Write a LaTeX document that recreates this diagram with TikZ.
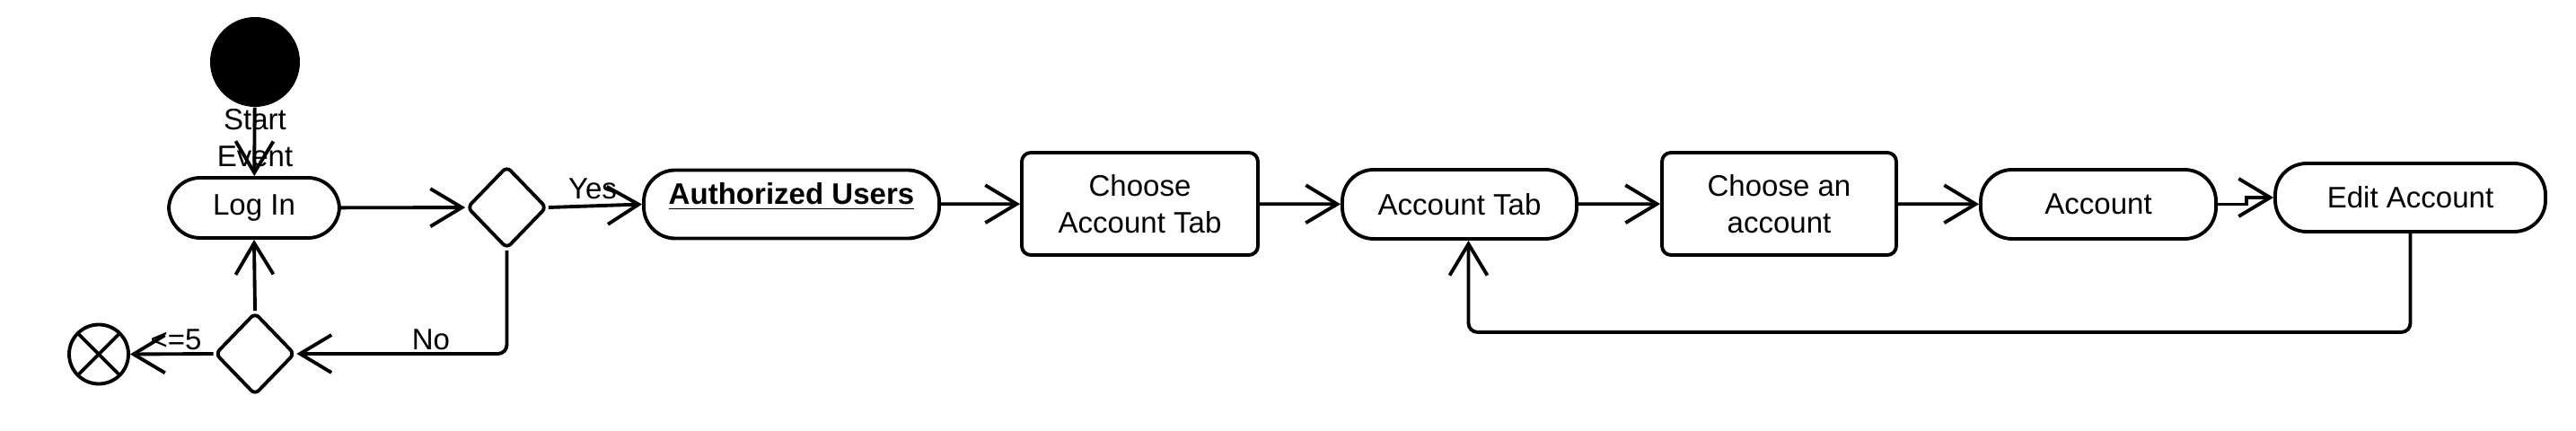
\documentclass[tikz,border=0pt]{standalone}
\usepackage{fontspec}
\setmainfont{Liberation Sans}
\usepackage{tikz}
\usetikzlibrary{arrows.meta,shapes.geometric}
\newcommand{\dfont}{\fontsize{9.4}{11.6}\selectfont}
\tikzset{
  act/.style ={draw,line width=1.1pt,rounded corners=3.5mm,inner sep=0pt,align=center,font=\dfont},
  tsk/.style ={draw,line width=1.1pt,rounded corners=1mm,inner sep=0pt,align=center,font=\dfont},
  dec/.style ={diamond,draw,line width=1.1pt,rounded corners=0.6mm,inner sep=0pt,minimum width=8.9mm,minimum height=9.2mm},
  ini/.style ={circle,fill=black,minimum size=10mm,inner sep=0pt},
  fin/.style ={circle,draw,line width=1.1pt,minimum size=6.6mm,inner sep=0pt,
    path picture={\draw[line width=1.1pt] (path picture bounding box.north west)--(path picture bounding box.south east)
      (path picture bounding box.north east)--(path picture bounding box.south west);}},
  lbl/.style ={inner sep=0pt,align=center,font=\dfont},
  ar/.style={-{Straight Barb[length=3.5mm,width=4.2mm]},line width=1.1pt},
}
\begin{document}
\begin{tikzpicture}
  \useasboundingbox (0,0) rectangle (28.69,4.79);
  \node[ini] (start) at (2.84,4.10){};
  \node[act,minimum width=19mm,minimum height=6.7mm] (login) at (2.83,2.475){Log In};
  \node[dec] (dec1) at (5.645,2.48){};
  \node[act,minimum width=32.9mm,minimum height=7.6mm] (auth) at (8.815,2.515){\underline{\textbf{Authorized Users}}\rule[-2.4mm]{0pt}{0pt}};
  \node[tsk,minimum width=26.3mm,minimum height=11.4mm] (chtab) at (12.695,2.52){Choose\\Account Tab};
  \node[act,minimum width=26.1mm,minimum height=7.7mm] (acctab) at (16.255,2.515){Account Tab};
  \node[tsk,minimum width=26.1mm,minimum height=11.4mm] (chacc) at (19.815,2.52){Choose an\\account};
  \node[act,minimum width=26.2mm,minimum height=7.7mm] (acc) at (23.37,2.515){Account};
  \node[act,minimum width=30.1mm,minimum height=7.6mm] (edit) at (26.845,2.59){Edit Account};
  \node[dec] (dec2) at (2.84,0.85){};
  \node[fin] (endx) at (1.10,0.845){};
  % flow
  \draw[ar] (start) -- (login);
  \node[lbl] (startlbl) at (2.84,3.255){Start\\Event};
  \draw[ar] (login) -- (dec1);
  \draw[ar] (dec1.east) -- (auth.west);
  \node[lbl] (lyes) at (6.60,2.69){Yes};
  \draw[ar] (auth) -- (chtab);
  \draw[ar] (chtab) -- (acctab);
  \draw[ar] (acctab) -- (chacc);
  \draw[ar] (chacc) -- (acc);
  \draw[ar] (acc.east) -- ++(0.32,0) |- (edit.west);
  \draw[ar,rounded corners=1mm] (edit.south) -- ++(0,-1.10) -| ([xshift=1mm]acctab.south);
  % retry loop
  \draw[ar,rounded corners=1mm] (dec1.south) |- (dec2.east);
  \node[lbl] (lno) at (4.80,1.01){No};
  \draw[ar] (dec2.north) -- (login.south);
  \draw[ar] (dec2.west) -- (endx.east);
  \node[lbl] (lle5) at (1.96,1.01){<=5};
\end{tikzpicture}
\end{document}
